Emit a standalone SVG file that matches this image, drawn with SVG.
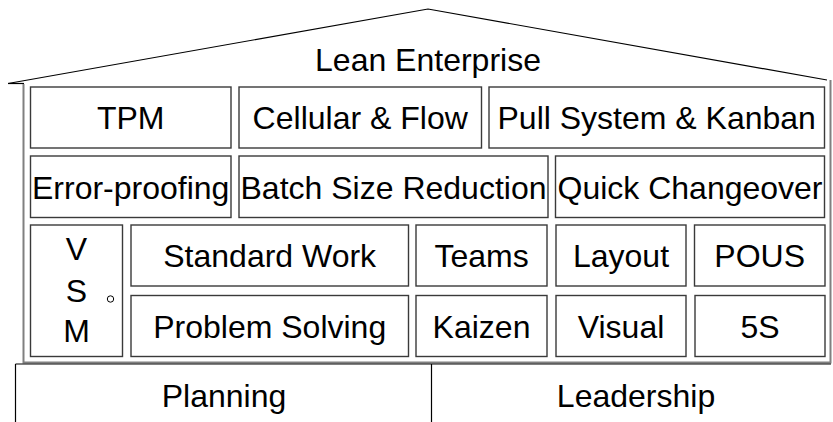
<svg xmlns="http://www.w3.org/2000/svg" width="833" height="422" viewBox="0 0 833 422">
  <style>
    .box { fill: #ffffff; stroke: #3a3a3a; stroke-width: 1.4; }
    .lbl { font-family: "Liberation Sans", Arial, sans-serif; font-size: 32px; fill: #000; text-anchor: middle; }
    .frame { fill: none; stroke: #808080; stroke-width: 2; }
    .line { fill: none; stroke: #000; stroke-width: 1.2; }
  </style>
  <rect width="833" height="422" fill="#ffffff"/>

  <!-- house outline: roof, walls, foundation -->
  <g id="structure">
    <polyline class="line" points="8,83.5 428,9 827,80"/>
    <line class="line" x1="8" y1="83.5" x2="24" y2="83.5"/>
    <polyline class="frame" points="23.5,84 23.5,362.5 830.5,362.5 830.5,80"/>
    <line class="line" x1="15.5" y1="364" x2="831" y2="364"/>
    <line class="line" x1="15.5" y1="364" x2="15.5" y2="422"/>
    <line class="line" x1="431.5" y1="364" x2="431.5" y2="422"/>
    <text class="lbl" x="428" y="71">Lean Enterprise</text>
  </g>

  <!-- row 1 -->
  <g id="tpm"><rect class="box" x="30.5" y="87" width="200.5" height="61"/><text class="lbl" x="130.7" y="129">TPM</text></g>
  <g id="cellular"><rect class="box" x="239" y="87" width="242.5" height="61"/><text class="lbl" x="360.2" y="129">Cellular &amp; Flow</text></g>
  <g id="pull"><rect class="box" x="489" y="87" width="335.5" height="61"/><text class="lbl" x="656.7" y="129">Pull System &amp; Kanban</text></g>

  <!-- row 2 -->
  <g id="error-proofing"><rect class="box" x="30.5" y="156" width="200.5" height="61.5"/><text class="lbl" x="130.7" y="198.5">Error-proofing</text></g>
  <g id="batch"><rect class="box" x="239" y="156" width="309" height="61.5"/><text class="lbl" x="393.5" y="198.5">Batch Size Reduction</text></g>
  <g id="changeover"><rect class="box" x="555.5" y="156" width="269" height="61.5"/><text class="lbl" x="690" y="198.5">Quick Changeover</text></g>

  <!-- VSM column -->
  <g id="vsm">
    <rect class="box" x="30.5" y="225" width="92" height="131.5"/>
    <text class="lbl" x="76.5" y="260">V</text>
    <text class="lbl" x="76.5" y="302">S</text>
    <text class="lbl" x="76.5" y="342">M</text>
    <circle cx="110.5" cy="299" r="3.2" fill="#fff" stroke="#000" stroke-width="1"/>
  </g>

  <!-- row 3 -->
  <g id="standard-work"><rect class="box" x="131" y="225" width="277.5" height="61"/><text class="lbl" x="269.7" y="267">Standard Work</text></g>
  <g id="teams"><rect class="box" x="416" y="225" width="131" height="61"/><text class="lbl" x="481.5" y="267">Teams</text></g>
  <g id="layout"><rect class="box" x="556" y="225" width="130" height="61"/><text class="lbl" x="621" y="267">Layout</text></g>
  <g id="pous"><rect class="box" x="694.5" y="225" width="130.5" height="61"/><text class="lbl" x="759.7" y="267">POUS</text></g>

  <!-- row 4 -->
  <g id="problem-solving"><rect class="box" x="131" y="295.5" width="277.5" height="61"/><text class="lbl" x="269.7" y="337.5">Problem Solving</text></g>
  <g id="kaizen"><rect class="box" x="416" y="295.5" width="131" height="61"/><text class="lbl" x="481.5" y="337.5">Kaizen</text></g>
  <g id="visual"><rect class="box" x="556" y="295.5" width="130" height="61"/><text class="lbl" x="621" y="337.5">Visual</text></g>
  <g id="fives"><rect class="box" x="695" y="295.5" width="130" height="61"/><text class="lbl" x="760" y="337.5">5S</text></g>

  <!-- foundation -->
  <g id="planning"><text class="lbl" x="224" y="407">Planning</text></g>
  <g id="leadership"><text class="lbl" x="636" y="407">Leadership</text></g>
</svg>
